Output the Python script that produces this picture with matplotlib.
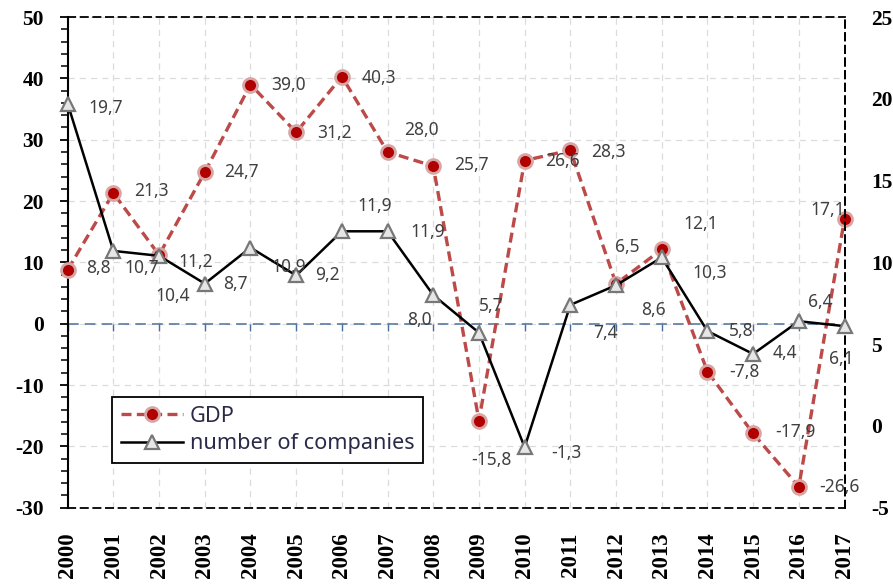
import numpy as np
import matplotlib.pyplot as plt
from matplotlib.lines import Line2D

# GDP growth and number of companies, 2000-2017
years = np.arange(2000, 2018)
gdp = [8.8, 21.3, 11.2, 24.7, 39.0, 31.2, 40.3, 28.0, 25.7, -15.8,
       26.6, 28.3, 6.5, 12.1, -7.8, -17.9, -26.6, 17.1]
companies = [19.7, 10.7, 10.4, 8.7, 10.9, 9.2, 11.9, 11.9, 8.0, 5.7,
             -1.3, 7.4, 8.6, 10.3, 5.8, 4.4, 6.4, 6.1]

# label offsets in pixels (dx right, dy down) from each point
gdp_off = [(31, -2), (38, -2), (37, 7), (37, 0), (38, 0), (38, 1), (37, 1),
           (34, -22), (38, -1), (12, 39), (38, 0), (38, 2), (11, -37),
           (39, -25), (37, 0), (42, -1), (41, 0), (-17, -9)]
comp_off = [(38, 4), (28, 17), (14, 40), (31, 0), (38, 19), (31, 0), (33, -25),
            (40, 1), (-14, 25), (12, -27), (42, 6), (35, 28), (37, 25),
            (48, 16), (34, 0), (32, -1), (21, -19), (-3, 33)]

def fmt(v):
    return ('%.1f' % v).replace('.', ',')

fig = plt.figure(figsize=(8.93, 5.88), dpi=100)
ax = fig.add_axes([0.0758, 0.1366, 0.8699, 0.8344])
ax2 = ax.twinx()

ax.set_xlim(2000, 2017)
ax.set_ylim(-30, 50)
ax2.set_ylim(-5, 25)

# grid
ax.set_xticks(years)
ax.set_yticks(np.arange(-30, 51, 10))
ax.set_yticks(np.arange(-30, 51, 2), minor=True)
ax.grid(True, which='major', color='#dcdcdc', ls=(0, (5, 4)), lw=0.9)
ax.set_axisbelow(True)

# zero line with small ticks at each year
zc = '#4a6f9c'
ax.axhline(0, color=zc, ls=(0, (7, 4)), lw=1.1, zorder=1)
ax.plot(years, np.zeros(len(years)), ls='none', marker=3, ms=5,
        mew=1.0, color=zc, zorder=1)

gdp_style = dict(color='#bb4a48', ls=(0, (3, 1.6)), lw=2.4, marker='o',
                 ms=10, mfc='#b00000', mec='#d8a5a5', mew=2.0)
comp_style = dict(color='black', lw=1.8, marker='^', ms=10,
                  mfc='#e6e6e6', mec='#777777', mew=1.6)
ax.plot(years, gdp, clip_on=False, zorder=3, **gdp_style)
ax2.plot(years, companies, clip_on=False, zorder=3, **comp_style)

lab_kw = dict(textcoords='offset pixels', ha='center', va='center',
              fontsize=12.5, color='#404040', family='Noto Sans', zorder=5)
for x, v, (dx, dy) in zip(years, gdp, gdp_off):
    ax.annotate(fmt(v), (x, v), xytext=(dx, -dy), **lab_kw)
for x, v, (dx, dy) in zip(years, companies, comp_off):
    ax2.annotate(fmt(v), (x, v), xytext=(dx, -dy), **lab_kw)

# frame
for s in ['top', 'bottom', 'right']:
    ax.spines[s].set_linestyle((0, (4, 3)))
    ax.spines[s].set_linewidth(1.3)
ax.spines['left'].set_linewidth(1.5)
for s in ['top', 'bottom', 'left']:
    ax2.spines[s].set_visible(False)
ax2.spines['right'].set_linestyle((0, (4, 3)))
ax2.spines['right'].set_linewidth(1.3)

yfont = dict(family='Liberation Serif', weight='bold', size=15.5)
xfont = dict(family='Liberation Serif', weight='bold', size=16.5)
ax.tick_params(axis='y', which='major', length=6, width=1.3, pad=11)
ax.tick_params(axis='y', which='minor', length=5, width=1.1)
ax.tick_params(axis='x', length=0, pad=18)
ax2.tick_params(axis='y', length=0, pad=19)
ax.set_yticklabels([str(t) for t in range(-30, 51, 10)], **yfont)
ax.set_xticklabels([str(y) for y in years], rotation=90, **xfont)
ax2.set_yticks(np.arange(-5, 26, 5))
ax2.set_yticklabels([str(t) for t in range(-5, 26, 5)], **yfont)

handles = [Line2D([], [], **gdp_style), Line2D([], [], **comp_style)]
leg = ax2.legend(handles, ['GDP', 'number of companies'], loc='lower left',
                 bbox_to_anchor=(0.057, 0.091), borderaxespad=0,
                 fancybox=False, framealpha=1, edgecolor='black',
                 prop=dict(family='Noto Sans', size=15.6), handlelength=2.9,
                 handletextpad=0.3, borderpad=0.4, labelspacing=0.3,
                 labelcolor='#2a2a48')
leg.get_frame().set_linewidth(1.3)

fig.savefig('out.png', dpi=100)
